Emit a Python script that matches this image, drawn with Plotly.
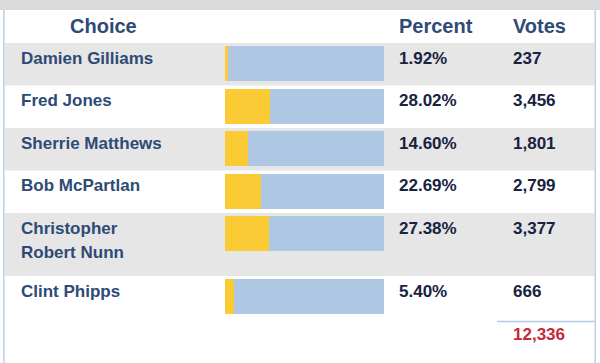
import plotly.graph_objects as go

# ---- data ----
choices = ["Damien Gilliams", "Fred Jones", "Sherrie Matthews", "Bob McPartlan",
           "Christopher<br>Robert Nunn", "Clint Phipps"]
percents = [1.92, 28.02, 14.60, 22.69, 27.38, 5.40]
votes = [237, 3456, 1801, 2799, 3377, 666]
headers = ["Choice", "Percent", "Votes"]

# ---- layout constants (pixels) ----
W, H = 600, 363
HEADER_TOP = 10
FIRST_ROW_TOP = 43
ROW_H = 42.5
LINE_H = 24
BAR_H = 35
FONT = "Liberation Sans, Arial, Helvetica, sans-serif"
NAME_C = "#2e4a76"
VAL_C = "#17233f"
GRAY_BG = "#e6e6e6"
BORDER_C = "#c3d4ea"
YELLOW = "#fbcb36"
BLUE = "#aec8e4"
RED = "#c8283c"

x_name, x_pct, x_votes = 19, 397, 511
bar_x0, bar_x1 = 225, 384

# compute row tops (extra height for multi-line names)
row_tops, row_hs = [], []
t = FIRST_ROW_TOP
for name in choices:
    n_lines = name.count("<br>") + 1
    h = ROW_H + (n_lines - 1) * 20.5
    row_tops.append(t)
    row_hs.append(h)
    t += h
rows_bottom = t

bar_centers = [rt + 3 + BAR_H / 2 for rt in row_tops]

fig = go.Figure()
fig.add_trace(go.Bar(
    y=bar_centers, x=percents, orientation="h", width=BAR_H,
    marker=dict(color=YELLOW, line=dict(width=0)), hoverinfo="skip"))
fig.add_trace(go.Bar(
    y=bar_centers, x=[100 - p for p in percents], orientation="h", width=BAR_H,
    marker=dict(color=BLUE, line=dict(width=0)), hoverinfo="skip"))

shapes = []
# top gray band
shapes.append(dict(type="rect", xref="paper", yref="y", x0=0, x1=1, y0=0, y1=HEADER_TOP,
                   fillcolor="#dadada", line=dict(width=0), layer="below"))
# row backgrounds
for i, (rt, rh) in enumerate(zip(row_tops, row_hs)):
    if i % 2 == 0:
        shapes.append(dict(type="rect", xref="paper", yref="y", x0=4.5 / W, x1=594.5 / W,
                           y0=rt, y1=rt + rh, fillcolor=GRAY_BG, line=dict(width=0), layer="below"))
# borders
for xb in (3.8, 595.2):
    shapes.append(dict(type="line", xref="paper", yref="y", x0=xb / W, x1=xb / W,
                       y0=HEADER_TOP, y1=H, line=dict(color=BORDER_C, width=1.6)))
# total line
shapes.append(dict(type="line", xref="paper", yref="y", x0=497 / W, x1=595 / W,
                   y0=rows_bottom + 3, y1=rows_bottom + 3, line=dict(color="#b7cbe4", width=1.6)))

ann = []
# header
hy = 26
ann.append(dict(x=103 / W, y=hy, text=f"<b>{headers[0]}</b>", xanchor="center"))
ann.append(dict(x=x_pct / W, y=hy, text=f"<b>{headers[1]}</b>", xanchor="left"))
ann.append(dict(x=x_votes / W, y=hy, text=f"<b>{headers[2]}</b>", xanchor="left"))
for a in ann:
    a.update(xref="paper", yref="y", yanchor="middle", showarrow=False,
             font=dict(family=FONT, size=20, color=NAME_C))

for name, p, v, rt in zip(choices, percents, votes, row_tops):
    ty = rt + 15
    for j, line in enumerate(name.split("<br>")):
        ann.append(dict(xref="paper", yref="y", x=x_name / W, y=ty + j * LINE_H,
                        text=f"<b>{line}</b>", xanchor="left", yanchor="middle", showarrow=False,
                        font=dict(family=FONT, size=17, color=NAME_C)))
    ann.append(dict(xref="paper", yref="y", x=x_pct / W, y=ty, text=f"<b>{p:.2f}%</b>",
                    xanchor="left", yanchor="middle", showarrow=False,
                    font=dict(family=FONT, size=17, color=VAL_C)))
    ann.append(dict(xref="paper", yref="y", x=x_votes / W, y=ty, text=f"<b>{v:,}</b>",
                    xanchor="left", yanchor="middle", showarrow=False,
                    font=dict(family=FONT, size=17, color=VAL_C)))

total = sum(votes)
ann.append(dict(xref="paper", yref="y", x=x_votes / W, y=rows_bottom + 16, text=f"<b>{total:,}</b>",
                xanchor="left", yanchor="middle", showarrow=False,
                font=dict(family=FONT, size=17, color=RED)))

fig.update_layout(
    width=W, height=H, margin=dict(l=0, r=0, t=0, b=0),
    paper_bgcolor="white", plot_bgcolor="rgba(0,0,0,0)",
    barmode="stack", showlegend=False, bargap=0,
    xaxis=dict(domain=[bar_x0 / W, bar_x1 / W], range=[0, 100], visible=False, fixedrange=True),
    yaxis=dict(domain=[0, 1], range=[H, 0], visible=False, fixedrange=True),
    shapes=shapes, annotations=ann,
)

fig.write_html("out.html", config={"displayModeBar": False},
               post_script="document.body.style.margin='0';document.body.style.overflow='hidden';")
